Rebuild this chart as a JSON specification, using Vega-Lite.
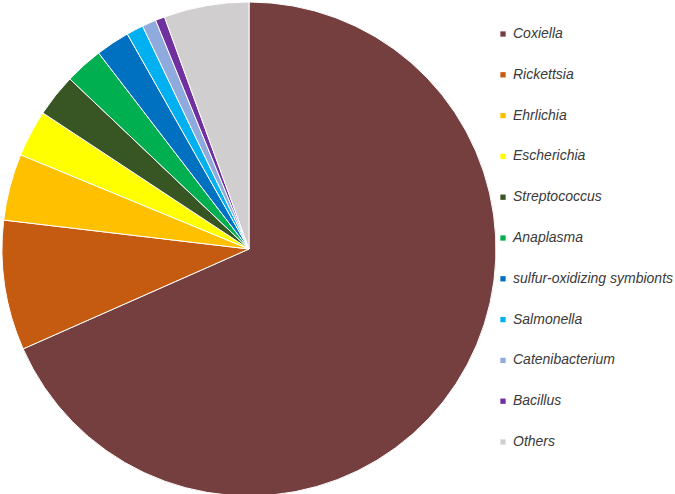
{
  "$schema": "https://vega.github.io/schema/vega-lite/v6.json",
  "width": 494,
  "height": 494,
  "padding": 0,
  "autosize": {"type": "pad"},
  "background": "white",
  "config": {"view": {"stroke": null}},
  "data": {
    "values": [
      {"genus": "Coxiella", "pct": 68.4, "rank": 1},
      {"genus": "Rickettsia", "pct": 8.5, "rank": 2},
      {"genus": "Ehrlichia", "pct": 4.36, "rank": 3},
      {"genus": "Escherichia", "pct": 3.06, "rank": 4},
      {"genus": "Streptococcus", "pct": 2.8, "rank": 5},
      {"genus": "Anaplasma", "pct": 2.5, "rank": 6},
      {"genus": "sulfur-oxidizing symbionts", "pct": 2.22, "rank": 7},
      {"genus": "Salmonella", "pct": 1.11, "rank": 8},
      {"genus": "Catenibacterium", "pct": 0.92, "rank": 9},
      {"genus": "Bacillus", "pct": 0.61, "rank": 10},
      {"genus": "Others", "pct": 5.56, "rank": 11}
    ]
  },
  "mark": {"type": "arc", "outerRadius": 247, "stroke": "white", "strokeWidth": 1},
  "encoding": {
    "theta": {"field": "pct", "type": "quantitative", "stack": true},
    "order": {"field": "rank", "type": "quantitative", "sort": "ascending"},
    "color": {
      "field": "genus",
      "type": "nominal",
      "sort": null,
      "scale": {
        "domain": ["Coxiella", "Rickettsia", "Ehrlichia", "Escherichia", "Streptococcus", "Anaplasma", "sulfur-oxidizing symbionts", "Salmonella", "Catenibacterium", "Bacillus", "Others"],
        "range": ["#763F3F", "#C55A11", "#FFC000", "#FFFF00", "#375623", "#00B050", "#0070C0", "#00B0F0", "#8FAADC", "#7030A0", "#D0CECE"]
      },
      "legend": {
        "title": null,
        "orient": "none",
        "legendX": 494,
        "legendY": 25,
        "symbolType": "square",
        "symbolSize": 28,
        "symbolStrokeWidth": 0,
        "labelFont": "Liberation Sans",
        "labelFontStyle": "italic",
        "labelFontSize": 14,
        "labelColor": "#3a3a3a",
        "labelOffset": 3,
        "rowPadding": 26.8,
        "labelLimit": 300
      }
    }
  }
}
